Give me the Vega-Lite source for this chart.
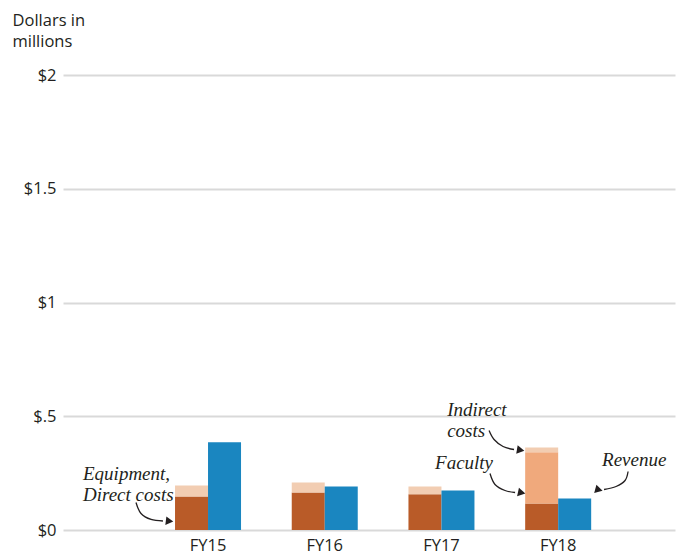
{
  "$schema": "https://vega.github.io/schema/vega-lite/v6.json",
  "width": 612,
  "height": 455,
  "autosize": {"type": "none"},
  "padding": {"left": 63, "top": 75, "right": 4, "bottom": 24},
  "background": "white",
  "config": {"view": {"stroke": null}, "font": "Open Sans"},
  "datasets": {
    "bars": [
      {"year": "FY15", "group": "Costs", "component": "Equipment, Direct costs", "value": 0.147},
      {"year": "FY15", "group": "Costs", "component": "Indirect costs", "value": 0.049},
      {"year": "FY15", "group": "Revenue", "component": "Revenue", "value": 0.386},
      {"year": "FY16", "group": "Costs", "component": "Equipment, Direct costs", "value": 0.165},
      {"year": "FY16", "group": "Costs", "component": "Indirect costs", "value": 0.044},
      {"year": "FY16", "group": "Revenue", "component": "Revenue", "value": 0.191},
      {"year": "FY17", "group": "Costs", "component": "Equipment, Direct costs", "value": 0.157},
      {"year": "FY17", "group": "Costs", "component": "Indirect costs", "value": 0.034},
      {"year": "FY17", "group": "Revenue", "component": "Revenue", "value": 0.174},
      {"year": "FY18", "group": "Costs", "component": "Equipment, Direct costs", "value": 0.116},
      {"year": "FY18", "group": "Costs", "component": "Faculty", "value": 0.226},
      {"year": "FY18", "group": "Costs", "component": "Indirect costs", "value": 0.021},
      {"year": "FY18", "group": "Revenue", "component": "Revenue", "value": 0.138}
    ],
    "notes": [
      {"note": "Equipment,\nDirect costs", "x": -0.071, "y": 0.2176},
      {"note": "Indirect\ncosts", "x": 3.049, "y": 0.5002},
      {"note": "Faculty", "x": 2.945, "y": 0.269},
      {"note": "Revenue", "x": 4.376, "y": 0.2835}
    ],
    "arrows": [
      {"arrow": "equipment", "i": 0, "x": 0.383, "y": 0.121},
      {"arrow": "equipment", "i": 1, "x": 0.426, "y": 0.0725},
      {"arrow": "equipment", "i": 2, "x": 0.512, "y": 0.0462},
      {"arrow": "equipment", "i": 3, "x": 0.614, "y": 0.0396},
      {"arrow": "indirect", "i": 0, "x": 3.408, "y": 0.4374},
      {"arrow": "indirect", "i": 1, "x": 3.451, "y": 0.3978},
      {"arrow": "indirect", "i": 2, "x": 3.528, "y": 0.367},
      {"arrow": "indirect", "i": 3, "x": 3.622, "y": 0.3538},
      {"arrow": "faculty", "i": 0, "x": 3.416, "y": 0.2484},
      {"arrow": "faculty", "i": 1, "x": 3.459, "y": 0.2},
      {"arrow": "faculty", "i": 2, "x": 3.545, "y": 0.1736},
      {"arrow": "faculty", "i": 3, "x": 3.631, "y": 0.1648},
      {"arrow": "revenue", "i": 0, "x": 4.599, "y": 0.2571},
      {"arrow": "revenue", "i": 1, "x": 4.573, "y": 0.2176},
      {"arrow": "revenue", "i": 2, "x": 4.496, "y": 0.1912},
      {"arrow": "revenue", "i": 3, "x": 4.393, "y": 0.178}
    ],
    "heads": [
      {"arrow": "equipment", "x": 0.66, "y": 0.0396},
      {"arrow": "indirect", "x": 3.668, "y": 0.3516},
      {"arrow": "faculty", "x": 3.677, "y": 0.1648},
      {"arrow": "revenue", "x": 4.339, "y": 0.178}
    ]
  },
  "layer": [
    {
      "data": {"name": "bars"},
      "transform": [
        {"stack": "value", "groupby": ["year", "group"], "sort": [{"field": "component"}], "as": ["lo", "hi"]}
      ],
      "mark": {"type": "bar"},
      "encoding": {
        "x": {
          "field": "year",
          "type": "nominal",
          "scale": {"paddingInner": 0.4345, "paddingOuter": 0.839, "align": 0.572},
          "axis": {
            "title": null,
            "labelAngle": 0,
            "domain": false,
            "ticks": false,
            "labelPadding": 7,
            "labelFontSize": 16.5,
            "labelColor": "#231f20"
          }
        },
        "xOffset": {"field": "group", "type": "nominal", "scale": {"paddingInner": 0, "paddingOuter": 0}},
        "y": {
          "field": "hi",
          "type": "quantitative",
          "scale": {"domain": [0, 2], "nice": false},
          "axis": {
            "values": [0, 0.5, 1, 1.5, 2],
            "format": "~g",
            "labelExpr": "datum.value == 0.5 ? '$.5' : '$' + datum.label",
            "domain": false,
            "ticks": false,
            "labelPadding": 7,
            "labelFontSize": 16.5,
            "labelColor": "#231f20",
            "gridColor": "#d9d9d9",
            "gridWidth": 2,
            "title": ["Dollars in", "millions"],
            "titleAngle": 0,
            "titleAlign": "left",
            "titleBaseline": "top",
            "titleX": -51,
            "titleY": -63,
            "titleFontSize": 16.5,
            "titleFontWeight": "normal",
            "titleLineHeight": 21,
            "titleColor": "#231f20"
          }
        },
        "y2": {"field": "lo"},
        "color": {
          "field": "component",
          "type": "nominal",
          "scale": {
            "domain": ["Equipment, Direct costs", "Faculty", "Indirect costs", "Revenue"],
            "range": ["#b95b28", "#f0a97c", "#f2cdb2", "#1a86c0"]
          },
          "legend": null
        }
      }
    },
    {
      "data": {"name": "arrows"},
      "mark": {"type": "line", "interpolate": "cardinal", "color": "#231f20", "strokeWidth": 1.3},
      "encoding": {
        "x": {"field": "x", "type": "quantitative", "scale": {"domain": [-0.2423, 5.001], "nice": false, "zero": false}, "axis": null},
        "y": {"field": "y", "type": "quantitative"},
        "detail": {"field": "arrow"},
        "order": {"field": "i"}
      }
    },
    {
      "data": {"name": "heads"},
      "mark": {"type": "point", "shape": "triangle", "filled": true, "opacity": 1, "color": "#231f20", "size": 75},
      "encoding": {
        "x": {"field": "x", "type": "quantitative", "scale": {"domain": [-0.2423, 5.001], "nice": false, "zero": false}, "axis": null},
        "y": {"field": "y", "type": "quantitative"},
        "angle": {
          "field": "arrow",
          "type": "nominal",
          "scale": {"domain": ["equipment", "indirect", "faculty", "revenue"], "range": [97, 105, 100, 256]},
          "legend": null
        }
      }
    },
    {
      "data": {"name": "notes"},
      "mark": {
        "type": "text",
        "align": "left",
        "baseline": "alphabetic",
        "lineBreak": "\n",
        "lineHeight": 20.5,
        "font": "Liberation Serif",
        "fontStyle": "italic",
        "fontSize": 19,
        "color": "#231f20"
      },
      "encoding": {
        "x": {"field": "x", "type": "quantitative", "scale": {"domain": [-0.2423, 5.001], "nice": false, "zero": false}, "axis": null},
        "y": {"field": "y", "type": "quantitative"},
        "text": {"field": "note"}
      }
    }
  ],
  "resolve": {"scale": {"x": "independent", "angle": "independent"}}
}
